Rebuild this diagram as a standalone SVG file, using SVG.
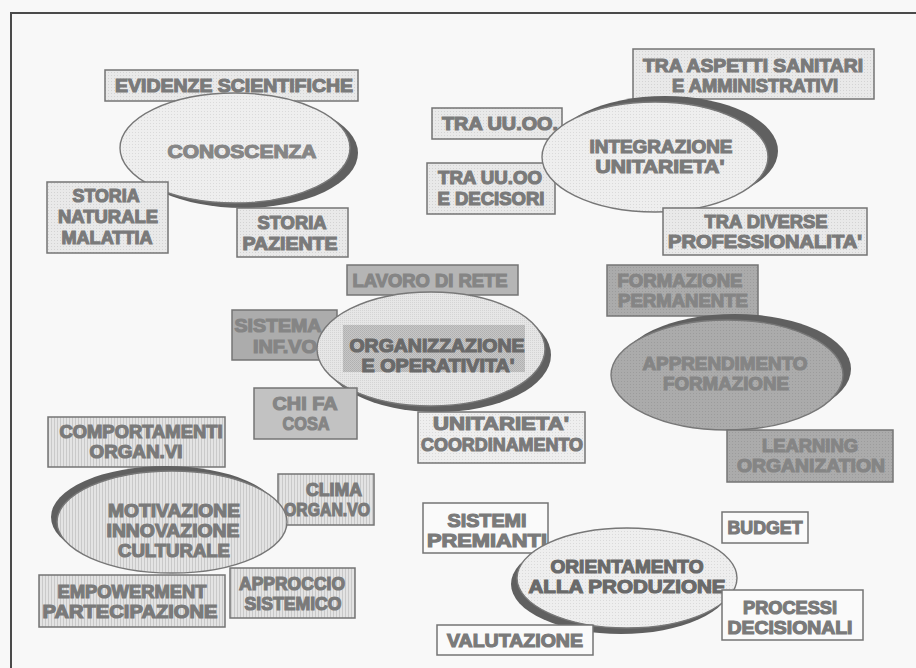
<svg xmlns="http://www.w3.org/2000/svg" width="916" height="668" viewBox="0 0 916 668">
  <style>
    .t { font-family: "Liberation Sans", Arial, sans-serif; font-weight: bold; font-size: 19px; text-anchor: middle; fill: #7a7a7a; stroke: #7a7a7a; stroke-width: 1.2; }
    .t-dk { fill: #6a6a6a; stroke: #6a6a6a; }
    .t-on-dark { fill: #858585; stroke: #858585; }
    .box { stroke: #747474; stroke-width: 1.5; }
    .ell { stroke: #777777; stroke-width: 1.4; }
    .shadow { fill: #606060; }
  </style>
  <defs>
    <pattern id="dotsLight" width="3" height="3" patternUnits="userSpaceOnUse">
      <rect width="3" height="3" fill="#e9e9e9"/>
      <rect width="1" height="1" fill="#d3d3d3"/>
    </pattern>
    <pattern id="dotsPale" width="3" height="3" patternUnits="userSpaceOnUse">
      <rect width="3" height="3" fill="#eeeeee"/>
      <rect width="1" height="1" fill="#dadada"/>
    </pattern>
    <pattern id="checkMid" width="2" height="2" patternUnits="userSpaceOnUse">
      <rect width="2" height="2" fill="#bcbcbc"/>
      <rect width="1" height="1" fill="#a4a4a4"/>
      <rect x="1" y="1" width="1" height="1" fill="#a4a4a4"/>
    </pattern>
    <pattern id="checkLight" width="2" height="2" patternUnits="userSpaceOnUse">
      <rect width="2" height="2" fill="#e6e6e6"/>
      <rect width="1" height="1" fill="#d4d4d4"/>
    </pattern>
    <pattern id="grainDark" width="3" height="3" patternUnits="userSpaceOnUse">
      <rect width="3" height="3" fill="#ababab"/>
      <rect width="1" height="1" fill="#9c9c9c"/>
    </pattern>
    <pattern id="vlines" width="3" height="3" patternUnits="userSpaceOnUse">
      <rect width="3" height="3" fill="#e3e3e3"/>
      <rect width="1" height="3" fill="#c9c9c9"/>
    </pattern>
  </defs>

  <!-- page background and frame -->
  <rect width="916" height="668" fill="#f8f8f8"/>
  <path d="M11 668 V13 H916" fill="none" stroke="#4a4a4a" stroke-width="2"/>

  <!-- CONOSCENZA cluster -->
  <g id="evidenze-scientifiche">
    <rect class="box" x="105" y="70" width="253" height="31" fill="url(#dotsLight)"/>
    <text class="t" x="234" y="92" textLength="238" lengthAdjust="spacingAndGlyphs">EVIDENZE SCIENTIFICHE</text>
  </g>
  <g id="conoscenza">
    <ellipse class="shadow" cx="243" cy="153" rx="115" ry="55"/>
    <ellipse class="ell" cx="235" cy="148" rx="115" ry="55" fill="url(#dotsPale)"/>
    <text class="t" x="242" y="158" textLength="149" lengthAdjust="spacingAndGlyphs" style="fill:#868686;stroke:#868686">CONOSCENZA</text>
  </g>
  <g id="storia-naturale-malattia">
    <rect class="box" x="47" y="182" width="121" height="71" fill="url(#dotsLight)"/>
    <text class="t" x="106" y="202" textLength="67" lengthAdjust="spacingAndGlyphs">STORIA</text>
    <text class="t" x="108" y="223" textLength="100" lengthAdjust="spacingAndGlyphs">NATURALE</text>
    <text class="t" x="107" y="244" textLength="91" lengthAdjust="spacingAndGlyphs">MALATTIA</text>
  </g>
  <g id="storia-paziente">
    <rect class="box" x="237" y="208" width="111" height="49" fill="url(#dotsLight)"/>
    <text class="t" x="292" y="229" textLength="69" lengthAdjust="spacingAndGlyphs">STORIA</text>
    <text class="t" x="290" y="250" textLength="95" lengthAdjust="spacingAndGlyphs">PAZIENTE</text>
  </g>

  <!-- INTEGRAZIONE cluster -->
  <g id="tra-aspetti">
    <rect class="box" x="633" y="49" width="241" height="50" fill="url(#dotsLight)"/>
    <text class="t" x="753" y="72" textLength="220" lengthAdjust="spacingAndGlyphs">TRA ASPETTI SANITARI</text>
    <text class="t" x="755" y="92" textLength="166" lengthAdjust="spacingAndGlyphs">E AMMINISTRATIVI</text>
  </g>
  <g id="tra-uuoo">
    <rect class="box" x="432" y="108" width="130" height="31" fill="url(#dotsLight)"/>
    <text class="t" x="500" y="130" textLength="116" lengthAdjust="spacingAndGlyphs">TRA UU.OO.</text>
  </g>
  <g id="tra-uuoo-decisori">
    <rect class="box" x="427" y="163" width="128" height="51" fill="url(#dotsLight)"/>
    <text class="t" x="490" y="184" textLength="104" lengthAdjust="spacingAndGlyphs">TRA UU.OO</text>
    <text class="t" x="491" y="205" textLength="107" lengthAdjust="spacingAndGlyphs">E DECISORI</text>
  </g>
  <g id="integrazione">
    <ellipse class="shadow" cx="665" cy="151" rx="113" ry="55"/>
    <ellipse class="ell" cx="655" cy="157" rx="113" ry="55" fill="url(#dotsPale)"/>
    <text class="t" x="661" y="153" textLength="143" lengthAdjust="spacingAndGlyphs">INTEGRAZIONE</text>
    <text class="t" x="660" y="173" textLength="129" lengthAdjust="spacingAndGlyphs">UNITARIETA'</text>
  </g>
  <g id="tra-diverse">
    <rect class="box" x="663" y="208" width="204" height="47" fill="url(#dotsLight)"/>
    <text class="t" x="766" y="228" textLength="123" lengthAdjust="spacingAndGlyphs">TRA DIVERSE</text>
    <text class="t" x="765" y="248" textLength="194" lengthAdjust="spacingAndGlyphs">PROFESSIONALITA'</text>
  </g>

  <!-- ORGANIZZAZIONE cluster -->
  <g id="lavoro-di-rete">
    <rect class="box" x="347" y="265" width="171" height="30" fill="#b5b5b5"/>
    <text class="t t-on-dark" x="430" y="287" textLength="155" lengthAdjust="spacingAndGlyphs">LAVORO DI RETE</text>
  </g>
  <g id="sistema-informativo">
    <rect class="box" x="232" y="310" width="105" height="50" fill="#acacac"/>
    <text class="t t-on-dark" x="278" y="332" textLength="87" lengthAdjust="spacingAndGlyphs">SISTEMA</text>
    <text class="t t-on-dark" x="285" y="353" textLength="64" lengthAdjust="spacingAndGlyphs">INF.VO</text>
  </g>
  <g id="organizzazione">
    <ellipse class="shadow" cx="437" cy="355" rx="114" ry="57"/>
    <ellipse class="ell" cx="431" cy="349" rx="114" ry="57" fill="url(#checkLight)"/>
    <rect x="343" y="325" width="182" height="47" fill="url(#checkMid)" opacity="0.75"/>
    <text class="t t-dk" x="437" y="352" textLength="175" lengthAdjust="spacingAndGlyphs">ORGANIZZAZIONE</text>
    <text class="t t-dk" x="438" y="372" textLength="153" lengthAdjust="spacingAndGlyphs">E OPERATIVITA'</text>
  </g>
  <g id="chi-fa-cosa">
    <rect class="box" x="254" y="388" width="103" height="51" fill="#c2c2c2"/>
    <text class="t t-on-dark" x="305" y="410" textLength="65" lengthAdjust="spacingAndGlyphs">CHI FA</text>
    <text class="t t-on-dark" x="306" y="430" textLength="47" lengthAdjust="spacingAndGlyphs">COSA</text>
  </g>
  <g id="unitarieta-coordinamento">
    <rect class="box" x="418" y="412" width="167" height="51" fill="url(#dotsPale)"/>
    <text class="t" x="501" y="430" textLength="136" lengthAdjust="spacingAndGlyphs">UNITARIETA'</text>
    <text class="t" x="502" y="451" textLength="162" lengthAdjust="spacingAndGlyphs">COORDINAMENTO</text>
  </g>

  <!-- APPRENDIMENTO cluster -->
  <g id="formazione-permanente">
    <rect class="box" x="607" y="265" width="151" height="51" fill="url(#grainDark)"/>
    <text class="t t-on-dark" x="680" y="287" textLength="125" lengthAdjust="spacingAndGlyphs">FORMAZIONE</text>
    <text class="t t-on-dark" x="683" y="307" textLength="130" lengthAdjust="spacingAndGlyphs">PERMANENTE</text>
  </g>
  <g id="apprendimento">
    <ellipse class="shadow" cx="735" cy="369" rx="116" ry="55"/>
    <ellipse class="ell" cx="727" cy="375" rx="116" ry="55" fill="url(#grainDark)"/>
    <text class="t t-on-dark" x="725" y="370" textLength="165" lengthAdjust="spacingAndGlyphs">APPRENDIMENTO</text>
    <text class="t t-on-dark" x="726" y="390" textLength="126" lengthAdjust="spacingAndGlyphs">FORMAZIONE</text>
  </g>
  <g id="learning-organization">
    <rect class="box" x="727" y="430" width="166" height="52" fill="url(#grainDark)"/>
    <text class="t t-on-dark" x="810" y="452" textLength="96" lengthAdjust="spacingAndGlyphs">LEARNING</text>
    <text class="t t-on-dark" x="811" y="472" textLength="148" lengthAdjust="spacingAndGlyphs">ORGANIZATION</text>
  </g>

  <!-- MOTIVAZIONE cluster -->
  <g id="comportamenti">
    <rect class="box" x="48" y="417" width="177" height="50" fill="url(#vlines)"/>
    <text class="t" x="141" y="438" textLength="163" lengthAdjust="spacingAndGlyphs">COMPORTAMENTI</text>
    <text class="t" x="136" y="458" textLength="93" lengthAdjust="spacingAndGlyphs">ORGAN.VI</text>
  </g>
  <g id="clima">
    <rect class="box" x="278" y="474" width="96" height="51" fill="url(#vlines)"/>
    <text class="t" x="334" y="496" textLength="56" lengthAdjust="spacingAndGlyphs">CLIMA</text>
    <text class="t" x="327" y="516" textLength="86" lengthAdjust="spacingAndGlyphs">ORGAN.VO</text>
  </g>
  <g id="motivazione">
    <ellipse class="shadow" cx="166" cy="517" rx="115" ry="51"/>
    <ellipse class="ell" cx="172" cy="522" rx="115" ry="51" fill="url(#vlines)"/>
    <text class="t" x="174" y="517" textLength="132" lengthAdjust="spacingAndGlyphs">MOTIVAZIONE</text>
    <text class="t" x="173" y="537" textLength="133" lengthAdjust="spacingAndGlyphs">INNOVAZIONE</text>
    <text class="t" x="174" y="557" textLength="112" lengthAdjust="spacingAndGlyphs">CULTURALE</text>
  </g>
  <g id="empowerment">
    <rect class="box" x="39" y="575" width="186" height="52" fill="url(#vlines)"/>
    <text class="t" x="132" y="598" textLength="149" lengthAdjust="spacingAndGlyphs">EMPOWERMENT</text>
    <text class="t" x="130" y="618" textLength="175" lengthAdjust="spacingAndGlyphs">PARTECIPAZIONE</text>
  </g>
  <g id="approccio-sistemico">
    <rect class="box" x="230" y="568" width="125" height="50" fill="url(#vlines)"/>
    <text class="t" x="292" y="590" textLength="106" lengthAdjust="spacingAndGlyphs">APPROCCIO</text>
    <text class="t" x="293" y="610" textLength="97" lengthAdjust="spacingAndGlyphs">SISTEMICO</text>
  </g>

  <!-- ORIENTAMENTO cluster -->
  <g id="sistemi-premianti">
    <rect class="box" x="423" y="503" width="125" height="50" fill="#fafafa"/>
    <text class="t" x="487" y="527" textLength="79" lengthAdjust="spacingAndGlyphs">SISTEMI</text>
    <text class="t" x="487" y="547" textLength="120" lengthAdjust="spacingAndGlyphs">PREMIANTI</text>
  </g>
  <g id="orientamento">
    <ellipse class="shadow" cx="621" cy="584" rx="110" ry="50"/>
    <ellipse class="ell" cx="627" cy="578" rx="110" ry="50" fill="url(#dotsPale)"/>
    <text class="t t-dk" x="627" y="573" textLength="153" lengthAdjust="spacingAndGlyphs">ORIENTAMENTO</text>
    <text class="t t-dk" x="627" y="593" textLength="197" lengthAdjust="spacingAndGlyphs">ALLA PRODUZIONE</text>
  </g>
  <g id="budget">
    <rect class="box" x="722" y="512" width="86" height="31" fill="#fafafa"/>
    <text class="t" x="765" y="534" textLength="75" lengthAdjust="spacingAndGlyphs">BUDGET</text>
  </g>
  <g id="processi-decisionali">
    <rect class="box" x="722" y="590" width="141" height="50" fill="#fafafa"/>
    <text class="t" x="790" y="614" textLength="94" lengthAdjust="spacingAndGlyphs">PROCESSI</text>
    <text class="t" x="790" y="634" textLength="125" lengthAdjust="spacingAndGlyphs">DECISIONALI</text>
  </g>
  <g id="valutazione">
    <rect class="box" x="437" y="625" width="156" height="30" fill="#fafafa"/>
    <text class="t" x="515" y="647" textLength="136" lengthAdjust="spacingAndGlyphs">VALUTAZIONE</text>
  </g>
</svg>
